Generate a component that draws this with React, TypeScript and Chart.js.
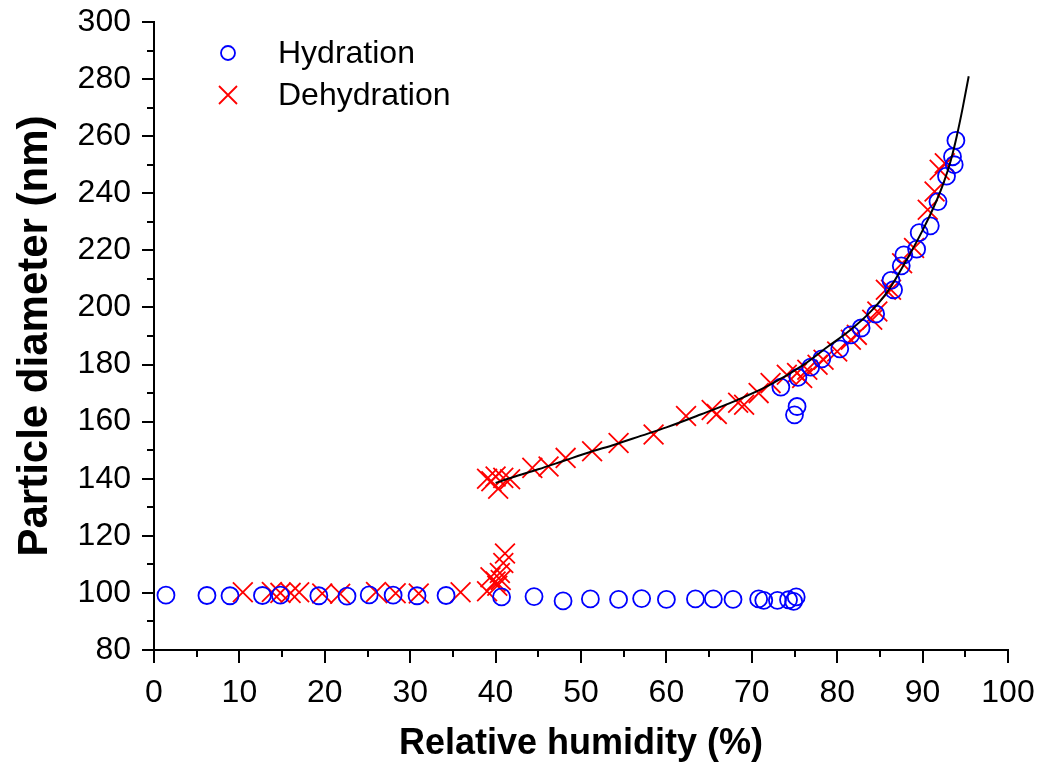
import React, { useEffect, useRef } from 'react';
import { Chart, registerables } from 'chart.js';

Chart.register(...registerables);

// Hydration (blue circles)
const hydrationX = [1.4, 6.2, 8.9, 12.7, 14.8, 19.3, 22.6, 25.2, 28.0, 30.8, 34.2, 40.7, 44.5, 47.9, 51.1, 54.4, 57.1, 60.0, 63.4, 65.5, 67.8, 70.8, 71.4, 73.0, 74.3, 74.9, 75.2,
  73.4, 75.3, 75.0, 75.4, 76.9, 78.2, 80.3, 81.6, 82.8, 84.5, 86.3, 86.6, 87.5, 87.8, 89.3, 89.6, 90.9, 91.8, 92.8, 93.5, 93.7, 93.9];
const hydrationY = [99.2, 99.1, 99.0, 99.1, 99.2, 99.0, 98.9, 99.3, 99.2, 99.0, 99.1, 98.6, 98.7, 97.2, 97.9, 97.7, 98.0, 97.7, 97.9, 97.9, 97.7, 97.9, 97.4, 97.4, 97.6, 97.0, 98.6,
  172.1, 165.3, 162.4, 175.5, 179.1, 182.0, 185.5, 190.4, 192.8, 197.7, 209.5, 206.2, 214.6, 218.4, 220.4, 226.2, 228.6, 237.1, 246.0, 252.8, 250.0, 258.5];

// Dehydration (red crosses)
const dehydrationX = [10.4, 13.8, 14.8, 16.0, 17.0, 19.7, 21.8, 26.0, 28.3, 31.0, 35.9, 39.0,
  39.4, 40.0, 40.2, 40.5, 40.9, 41.1, 40.6,
  39.0, 39.5, 40.0, 40.3, 40.9, 41.7,
  44.3, 46.2, 48.2, 51.3, 54.4, 58.5, 62.3, 65.3, 65.9, 68.4, 69.1, 70.8, 72.2, 74.1, 75.3, 75.9, 76.5, 77.7, 78.4, 80.0, 81.6, 82.3, 84.1, 84.7, 85.7, 86.3, 87.6, 89.0, 90.6, 91.4, 92.0, 92.6];
const dehydrationY = [100.2, 100.3, 100.0, 100.0, 100.2, 99.8, 99.7, 100.3, 99.9, 99.8, 100.2, 100.6,
  105.5, 104.0, 102.5, 107.0, 110.5, 113.8, 104.5,
  140.0, 139.1, 140.8, 136.5, 140.3, 139.8,
  143.8, 144.3, 147.3, 149.6, 152.5, 155.5, 162.0, 164.1, 162.7, 166.6, 165.9, 170.0, 173.5, 176.4, 177.0, 175.3, 178.2, 179.9, 181.7, 184.6, 188.7, 190.4, 195.7, 198.6, 206.2, 206.2, 215.5, 220.8, 234.2, 240.6, 248.2, 250.5];

// Fitted curve (black line)
const fitX = [40.0, 42, 45, 48, 51, 54, 57, 60, 64, 68, 72, 76, 79, 81.5, 84, 86, 88, 90, 91.5, 92.5, 93.3, 94.0, 94.7, 95.4];
const fitY = [138.5, 140.5, 143.3, 146.3, 149.3, 152.0, 155.0, 158.0, 162.5, 167.2, 172.7, 179.8, 186.5, 192.0, 198.8, 206.0, 216.0, 227.0, 236.5, 244.0, 251.5, 260.0, 270.0, 281.0];

const seriesLabels = ['Hydration', 'Dehydration'];
const xTitle = 'Relative humidity (%)';
const yTitle = 'Particle diameter (nm)';
const xMin = 0, xMax = 100, xStep = 10, xMinorStep = 5;
const yMin = 80, yMax = 300, yStep = 20, yMinorStep = 10;

const FONT = '"Liberation Sans", Arial, Helvetica, sans-serif';

const pts = (xs: number[], ys: number[]) => xs.map((x, i) => ({ x, y: ys[i] }));

const ticksPlugin = {
  id: 'customTicks',
  afterDraw(chart: any) {
    const ctx = chart.ctx;
    const xs = chart.scales.x;
    const ys = chart.scales.y;
    const ca = chart.chartArea;
    ctx.save();
    ctx.strokeStyle = '#000';
    ctx.lineWidth = 2;
    ctx.beginPath();
    for (let v = xMin; v <= xMax + 1e-9; v += xMinorStep) {
      const major = Math.abs(v / xStep - Math.round(v / xStep)) < 1e-9;
      const px = Math.round(xs.getPixelForValue(v));
      ctx.moveTo(px, ca.bottom);
      ctx.lineTo(px, ca.bottom + (major ? 13 : 7));
    }
    for (let v = yMin; v <= yMax + 1e-9; v += yMinorStep) {
      const major = Math.abs((v - yMin) / yStep - Math.round((v - yMin) / yStep)) < 1e-9;
      const py = Math.round(ys.getPixelForValue(v));
      ctx.moveTo(ca.left, py);
      ctx.lineTo(ca.left - (major ? 12 : 7), py);
    }
    ctx.stroke();
    ctx.restore();
  },
};

const legendPlugin = {
  id: 'customLegend',
  afterDraw(chart: any) {
    const ctx = chart.ctx;
    const ca = chart.chartArea;
    const mx = ca.left + 74;
    const tx = ca.left + 124;
    const rows = [ca.top + 31, ca.top + 73];
    ctx.save();
    ctx.font = `32px ${FONT}`;
    ctx.textBaseline = 'middle';
    ctx.textAlign = 'left';
    ctx.fillStyle = '#000';
    ctx.strokeStyle = '#0000ff';
    ctx.lineWidth = 1.8;
    ctx.beginPath();
    ctx.arc(mx, rows[0], 7, 0, Math.PI * 2);
    ctx.stroke();
    ctx.strokeStyle = '#ff0000';
    ctx.beginPath();
    const h = 9;
    ctx.moveTo(mx - h, rows[1] - h);
    ctx.lineTo(mx + h, rows[1] + h);
    ctx.moveTo(mx - h, rows[1] + h);
    ctx.lineTo(mx + h, rows[1] - h);
    ctx.stroke();
    ctx.fillText(seriesLabels[0], tx, rows[0] + 1);
    ctx.fillText(seriesLabels[1], tx, rows[1] + 1);
    ctx.restore();
  },
};

const zeroPad = (s: any) => {
  s.paddingTop = 0;
  s.paddingBottom = 0;
  s.paddingLeft = 0;
  s.paddingRight = 0;
};

export default function App() {
  const ref = useRef<HTMLCanvasElement | null>(null);
  useEffect(() => {
    if (!ref.current) return;
    const chart = new Chart(ref.current, {
      type: 'scatter',
      data: {
        datasets: [
          {
            label: 'Fit',
            type: 'line',
            data: pts(fitX, fitY),
            borderColor: '#000',
            borderWidth: 2,
            pointRadius: 0,
            fill: false,
            cubicInterpolationMode: 'monotone',
            order: 0,
          } as any,
          {
            label: seriesLabels[0],
            data: pts(hydrationX, hydrationY),
            pointStyle: 'circle',
            pointRadius: 8.5,
            borderColor: '#0000ff',
            backgroundColor: 'rgba(0,0,0,0)',
            borderWidth: 1.8,
            order: 1,
          },
          {
            label: seriesLabels[1],
            data: pts(dehydrationX, dehydrationY),
            pointStyle: 'crossRot',
            pointRadius: 14,
            borderColor: '#ff0000',
            backgroundColor: '#ff0000',
            borderWidth: 1.8,
            order: 2,
          },
        ],
      },
      options: {
        animation: false,
        responsive: false,
        layout: { padding: { top: 22, right: 31, left: 0, bottom: 0 } },
        plugins: { legend: { display: false }, tooltip: { enabled: false } },
        scales: {
          x: {
            type: 'linear',
            min: xMin,
            max: xMax,
            grid: { display: false, drawTicks: false },
            border: { display: true, color: '#000', width: 2 },
            ticks: {
              stepSize: xStep,
              color: '#000',
              font: { family: FONT, size: 32 },
              padding: 24,
              maxRotation: 0,
            },
            title: {
              display: true,
              text: xTitle,
              color: '#000',
              font: { family: FONT, size: 36, weight: 'bold' },
              padding: { top: 0, bottom: 0 },
            },
            afterFit: (s: any) => { s.height = 116; zeroPad(s); },
          },
          y: {
            type: 'linear',
            min: yMin,
            max: yMax,
            grid: { display: false, drawTicks: false },
            border: { display: true, color: '#000', width: 2 },
            ticks: {
              stepSize: yStep,
              color: '#000',
              font: { family: FONT, size: 32 },
              padding: 23,
            },
            title: {
              display: true,
              text: yTitle,
              color: '#000',
              font: { family: FONT, size: 42, weight: 'bold' },
              padding: { top: 10, bottom: 0 },
            },
            afterFit: (s: any) => { s.width = 154; zeroPad(s); },
          },
        },
      },
      plugins: [ticksPlugin, legendPlugin],
    });
    return () => chart.destroy();
  }, []);
  return (
    <div style={{ position: 'absolute', left: 0, top: 0, width: 1039, height: 766, background: '#fff' }}>
      <canvas ref={ref} width={1039} height={766} style={{ display: 'block' }} />
    </div>
  );
}
